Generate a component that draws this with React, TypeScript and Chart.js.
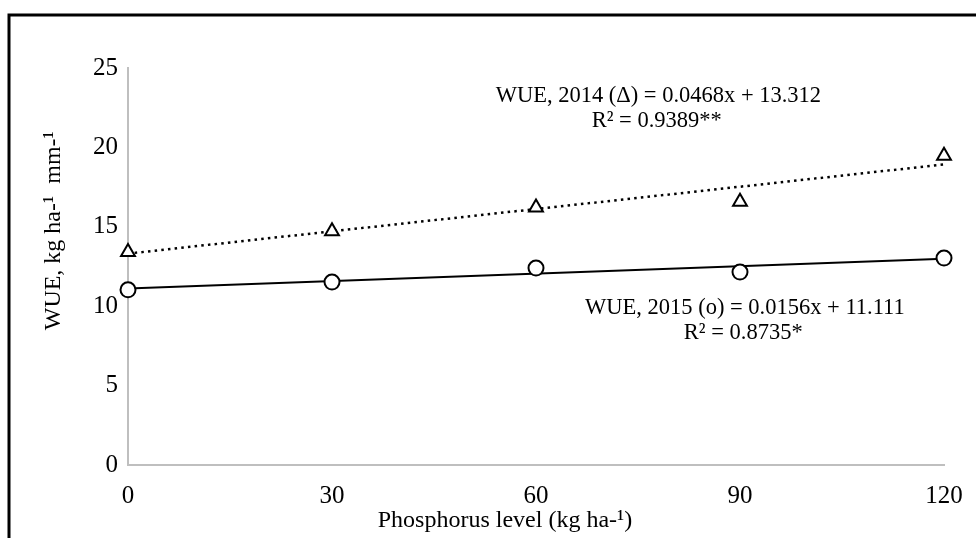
import React, { useEffect, useRef } from "react";
import { Chart, registerables } from "chart.js";

Chart.register(...registerables);

const phosphorusLevels = [0, 30, 60, 90, 120];
const wue2014 = [13.42, 14.72, 16.22, 16.58, 19.48];
const wue2015 = [11.03, 11.52, 12.4, 12.15, 13.03];
const trendX = [0, 120];
const trend2014 = [13.312, 18.928];
const trend2015 = [11.111, 12.983];
const xTicks = [0, 30, 60, 90, 120];
const yTicks = [0, 5, 10, 15, 20, 25];

const xTitle = "Phosphorus level (kg ha-\u00b9)";
const yTitle = "WUE, kg ha-\u00b9  mm-\u00b9";
const eq2014 = "WUE, 2014 (\u0394) = 0.0468x + 13.312";
const r2014 = "R\u00b2 = 0.9389**";
const eq2015 = "WUE, 2015 (o) = 0.0156x + 11.111";
const r2015 = "R\u00b2 = 0.8735*";

const FONT = "'Liberation Serif', 'Times New Roman', serif";

const pts = (xs: number[], ys: number[]) => xs.map((x, i) => ({ x, y: ys[i] }));

const framePlugin = {
  id: "frame",
  beforeDraw(chart: any) {
    const ctx = chart.ctx;
    ctx.save();
    ctx.fillStyle = "#fff";
    ctx.fillRect(0, 0, chart.width, chart.height);
    ctx.strokeStyle = "#000";
    ctx.lineWidth = 3;
    ctx.beginPath();
    ctx.moveTo(9, chart.height + 5);
    ctx.lineTo(9, 15);
    ctx.lineTo(chart.width + 5, 15);
    ctx.stroke();
    ctx.restore();
  },
  afterDraw(chart: any) {
    const ctx = chart.ctx;
    const a = chart.chartArea;
    const w = a.right - a.left;
    const h = a.bottom - a.top;
    ctx.save();
    ctx.fillStyle = "#000";
    ctx.textAlign = "center";
    ctx.textBaseline = "middle";
    ctx.font = `22.5px ${FONT}`;
    ctx.fillText(eq2014, a.left + w * 0.65, 96);
    ctx.fillText(r2014, a.left + w * 0.648, 121);
    ctx.fillText(eq2015, a.left + w * 0.756, 308);
    ctx.fillText(r2015, a.left + w * 0.754, 333);
    ctx.font = `24px ${FONT}`;
    ctx.fillText(xTitle, a.left + w * 0.462, 521);
    ctx.translate(54, a.top + h * 0.41);
    ctx.rotate(-Math.PI / 2);
    ctx.fillText(yTitle, 0, 0);
    ctx.restore();
  },
};

export default function App() {
  const ref = useRef<HTMLCanvasElement>(null);
  useEffect(() => {
    document.body.style.margin = "0";
    const chart = new Chart(ref.current!, {
      type: "scatter",
      data: {
        datasets: [
          {
            label: "2014",
            data: pts(phosphorusLevels, wue2014),
            pointStyle: "triangle",
            pointRadius: 8,
            pointBorderWidth: 2,
            pointBorderColor: "#000",
            pointBackgroundColor: "#fff",
            showLine: false,
            order: 0,
            clip: false,
          } as any,
          {
            label: "2015",
            data: pts(phosphorusLevels, wue2015),
            pointStyle: "circle",
            pointRadius: 7.5,
            pointBorderWidth: 2,
            pointBorderColor: "#000",
            pointBackgroundColor: "#fff",
            showLine: false,
            order: 0,
            clip: false,
          },
          {
            label: "trend 2014",
            data: pts(trendX, trend2014),
            showLine: true,
            pointRadius: 0,
            borderColor: "#000",
            borderWidth: 2.5,
            borderDash: [2.5, 4.2],
            order: 1,
            clip: false,
          },
          {
            label: "trend 2015",
            data: pts(trendX, trend2015),
            showLine: true,
            pointRadius: 0,
            borderColor: "#000",
            borderWidth: 2,
            order: 1,
            clip: false,
          },
        ],
      },
      options: {
        animation: false,
        responsive: false,
        layout: { padding: { left: 8, top: 68, right: 32, bottom: 0 } },
        plugins: { legend: { display: false }, tooltip: { enabled: false } },
        scales: {
          x: {
            type: "linear",
            min: 0,
            max: 120,
            afterBuildTicks: (s: any) => {
              s.ticks = xTicks.map((v) => ({ value: v }));
            },
            afterFit: (s: any) => {
              s.height = 73;
              s.paddingRight = 0;
              s.paddingLeft = 0;
            },
            grid: { display: true, drawOnChartArea: false, drawTicks: false },
            border: { display: true, color: "#bfbfbf", width: 2 },
            ticks: {
              color: "#000",
              padding: 16,
              maxRotation: 0,
              font: { family: FONT, size: 25 },
            },
          },
          y: {
            type: "linear",
            min: 0,
            max: 25,
            afterBuildTicks: (s: any) => {
              s.ticks = yTicks.map((v) => ({ value: v }));
            },
            afterFit: (s: any) => {
              s.width = 120;
              s.paddingTop = 0;
              s.paddingBottom = 0;
            },
            grid: { display: true, drawOnChartArea: false, drawTicks: false },
            border: { display: true, color: "#bfbfbf", width: 2 },
            ticks: {
              color: "#000",
              padding: 10,
              font: { family: FONT, size: 25 },
            },
          },
        },
      },
      plugins: [framePlugin],
    });
    return () => chart.destroy();
  }, []);
  return (
    <div style={{ width: 976, height: 538 }}>
      <canvas ref={ref} width={976} height={538} style={{ display: "block" }} />
    </div>
  );
}
